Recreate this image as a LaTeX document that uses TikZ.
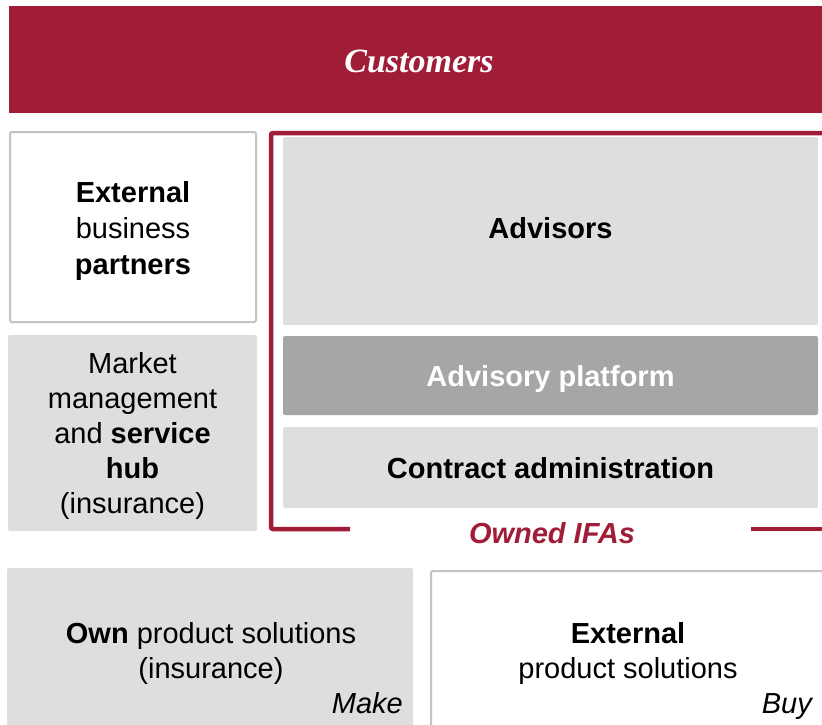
\documentclass[tikz,border=0pt]{standalone}
\usepackage{fontspec}
\setmainfont{Liberation Sans}
\newfontfamily\titleserif{Liberation Serif}
\definecolor{brandred}{RGB}{160,28,55}
\definecolor{boxgray}{RGB}{222,222,222}
\definecolor{platgray}{RGB}{166,166,166}
\definecolor{edgegray}{RGB}{195,195,195}
\begin{document}
\begin{tikzpicture}[x=1pt,y=-1pt,
  body/.style={font=\fontsize{29}{35}\selectfont, align=center},
  panel/.style={anchor=north west, inner sep=0pt, outer sep=0pt},
  graypanel/.style={panel, fill=boxgray, rounded corners=2pt},
  whitepanel/.style={panel, draw=edgegray, line width=2pt, fill=white, rounded corners=1.5pt},
  frameline/.style={draw=brandred, line width=4.5pt},
  tag/.style={font=\fontsize{29}{35}\selectfont\itshape, anchor=base east, inner sep=0pt}
]
\useasboundingbox (0,0) rectangle (822,725);

% top banner
\node[panel, fill=brandred, minimum width=820pt, minimum height=107pt] (customers) at (9,6) {};
\node[text=white, font=\titleserif\fontsize{34}{40}\selectfont\bfseries\itshape, yshift=-2pt]
  (customerstext) at (customers.center) {Customers};

% left column
\node[whitepanel, minimum width=246pt, minimum height=190pt] (partners) at (10,132) {};
\node[body, font=\fontsize{29}{36}\selectfont, yshift=-4pt]
  (partnerstext) at (partners.center) {\textbf{External}\\business\\\textbf{partners}};
\node[graypanel, minimum width=249pt, minimum height=196pt] (hub) at (8,335) {};
\node[body, font=\fontsize{29}{35}\selectfont, yshift=-2.5pt]
  (hubtext) at (hub.center) {Market\\management\\and \textbf{service}\\\textbf{hub}\\(insurance)};

% owned IFA stack
\node[graypanel, minimum width=535pt, minimum height=188pt] (advisors) at (283,137) {};
\node[body, yshift=3pt] (advisorstext) at (advisors.center) {\textbf{Advisors}};
\node[graypanel, fill=platgray, minimum width=535pt, minimum height=79pt] (platform) at (283,336) {};
\node[body, text=white, yshift=-3.5pt] (platformtext) at (platform.center) {\textbf{Advisory platform}};
\node[graypanel, minimum width=535pt, minimum height=81pt] (contract) at (283,427) {};
\node[body, yshift=-1pt] (contracttext) at (contract.center) {\textbf{Contract administration}};

% frame around the owned IFAs
\coordinate (frameL) at (350,529);
\coordinate (frameR) at (751,529);
\coordinate (frameTL) at (271,133);
\coordinate (frameTR) at (826,133);
\coordinate (frameBR) at (826,529);
\draw[frameline, rounded corners=2pt] (frameL) -| (frameTL) -- (frameTR);
\draw[frameline] (frameR) -- (frameBR);
\node[font=\fontsize{29}{35}\selectfont\bfseries\itshape, text=brandred]
  (owned) at (552,533) {Owned IFAs};

% product solutions
\node[graypanel, minimum width=406pt, minimum height=165pt] (ownprod) at (7,568) {};
\node[body] (ownprodtext) at (211,653) {\textbf{Own} product solutions\\(insurance)};
\node[tag] (make) at (403,713) {Make};

\node[whitepanel, minimum width=400pt, minimum height=165pt] (extprod) at (431,571) {};
\node[body] (extprodtext) at (628,653) {\textbf{External}\\product solutions};
\node[tag] (buy) at (812,713) {Buy};
\end{tikzpicture}
\end{document}
